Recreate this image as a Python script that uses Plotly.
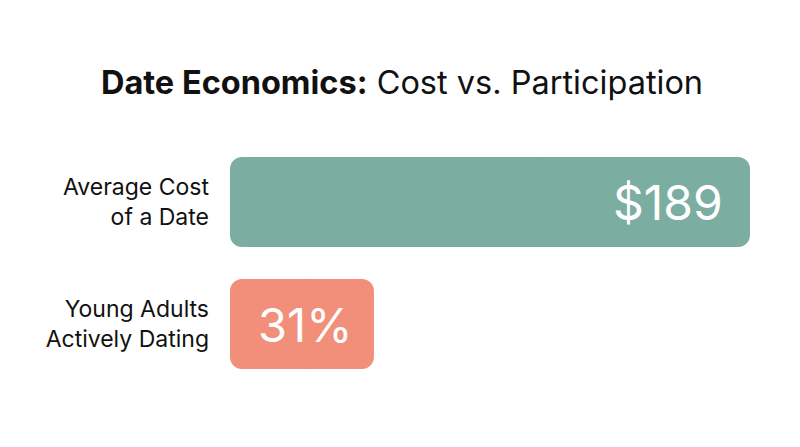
import plotly.graph_objects as go

categories = ["Average Cost<br>of a Date", "Young Adults<br>Actively Dating"]
values = [189, 31]
value_labels = ["$189", "31%"]
colors = ["#7BAEA1", "#F18F7B"]

FONT = "Inter, Noto Sans, sans-serif"
axes = ["x", "x2"]

fig = go.Figure()
# each bar is drawn as two overlapping halves growing outward, so both ends get rounded
for cat, val, col, ax in zip(categories, values, colors, axes):
    fig.add_trace(go.Bar(
        y=[cat], x=[val * 0.6], base=[val * 0.4], orientation="h",
        marker=dict(color=col, cornerradius=12, line=dict(width=0)),
        xaxis=ax, yaxis="y", hoverinfo="skip", showlegend=False,
    ))
    fig.add_trace(go.Bar(
        y=[cat], x=[-val * 0.6], base=[val * 0.6], orientation="h",
        marker=dict(color=col, cornerradius=12, line=dict(width=0)),
        xaxis=ax, yaxis="y", hoverinfo="skip", showlegend=False,
    ))

fig.add_annotation(x=values[0], y=categories[0], xref="x", yref="y",
                   text=value_labels[0], showarrow=False, xanchor="right", xshift=-25,
                   font=dict(family=FONT, size=48, color="white"))
fig.add_annotation(x=values[1] / 2, y=categories[1], xref="x2", yref="y",
                   text=value_labels[1], showarrow=False, xanchor="center", xshift=3,
                   font=dict(family=FONT, size=47, color="white"))

fig.update_layout(
    width=800, height=447,
    paper_bgcolor="white", plot_bgcolor="white",
    margin=dict(l=222, r=58, t=133, b=70, autoexpand=False),
    barmode="overlay",
    bargap=0.262,
    title=dict(text="<b>Date Economics:</b> Cost vs. Participation",
               x=0.4925, xanchor="center", y=1 - 75 / 447, yanchor="middle",
               font=dict(family=FONT, size=32.5, color="#111111")),
    xaxis=dict(range=[0, 189], visible=False, fixedrange=True, automargin=False),
    xaxis2=dict(range=[0, 112], visible=False, overlaying="x", fixedrange=True),
    yaxis=dict(categoryorder="array", categoryarray=categories, autorange="reversed",
               showgrid=False, zeroline=False, showline=False, ticks="",
               ticklabelstandoff=20, automargin=False,
               tickfont=dict(family=FONT, size=23, color="#111111")),
)

fig.write_html("out.html")
